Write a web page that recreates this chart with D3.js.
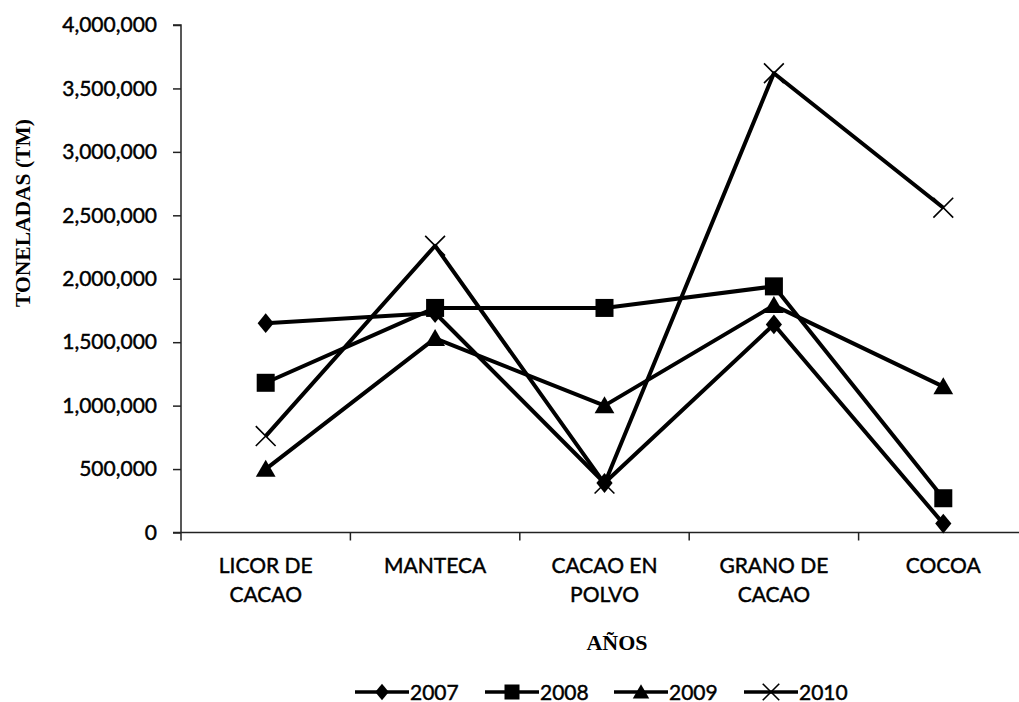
<!DOCTYPE html>
<html>
<head>
<meta charset="utf-8">
<script src="https://cdn.jsdelivr.net/npm/d3@7"></script>
<style>
  html, body { margin: 0; padding: 0; background: #fff; }
  svg { display: block; }
  .sans { font-family: Lato, "Open Sans", sans-serif; font-size: 21px; fill: #000; stroke: #000; stroke-width: 0.45px; }
</style>
</head>
<body>
<svg id="chart" width="1019" height="702"></svg>
<script>
// Cocoa product volumes by year (tonnes)
const categories = ["LICOR DE CACAO", "MANTECA", "CACAO EN POLVO", "GRANO DE CACAO", "COCOA"];
const years = ["2007", "2008", "2009", "2010"];
const values2007 = [1650000, 1730000, 390000, 1640000, 70000];
const values2008 = [1180000, 1770000, 1770000, 1940000, 270000];
const values2009 = [500000, 1530000, 1000000, 1790000, 1150000];
const values2010 = [760000, 2260000, 385000, 3620000, 2560000];
const yTicks = [0, 500000, 1000000, 1500000, 2000000, 2500000, 3000000, 3500000, 4000000];
const markerTypes = ["diamond", "square", "triangle", "cross"];

const seriesValues = [values2007, values2008, values2009, values2010];
const series = years.map((yr, i) => ({ year: yr, marker: markerTypes[i], values: seriesValues[i] }));

const svg = d3.select("#chart");
const plotLeft = 181, plotRight = 1028, plotTop = 25, plotBottom = 532.5;

const x = d3.scaleBand().domain(categories).range([plotLeft, plotRight]).paddingInner(0).paddingOuter(0);
const y = d3.scaleLinear().domain([0, 4000000]).range([plotBottom, plotTop]);
const cx = c => x(c) + x.bandwidth() / 2;

// Y axis
const yAxis = svg.append("g")
  .attr("transform", `translate(${plotLeft},0)`)
  .call(d3.axisLeft(y).tickValues(yTicks).tickFormat(d3.format(",")).tickSize(8).tickPadding(16));
yAxis.selectAll("path, line").attr("stroke", "#222").attr("stroke-width", 1.5);
yAxis.select(".domain").attr("d", `M-8,${y(4000000)}H0V${plotBottom}`);
yAxis.selectAll(".tick text").attr("class", "sans");

// X axis: ticks on category boundaries, labels centred in each band
const boundaries = categories.map(c => x(c)).concat([plotRight]);
const xAxisG = svg.append("g");
xAxisG.append("line")
  .attr("x1", plotLeft - 8).attr("x2", plotRight)
  .attr("y1", plotBottom).attr("y2", plotBottom)
  .attr("stroke", "#222").attr("stroke-width", 1.5);
xAxisG.selectAll("line.bt").data(boundaries).join("line")
  .attr("class", "bt")
  .attr("x1", d => d).attr("x2", d => d)
  .attr("y1", plotBottom).attr("y2", plotBottom + 8)
  .attr("stroke", "#222").attr("stroke-width", 1.5);

const labelG = xAxisG.selectAll("text.cat").data(categories).join("text")
  .attr("class", "cat sans")
  .attr("text-anchor", "middle")
  .attr("x", d => cx(d))
  .attr("y", plotBottom + 40.5);
labelG.each(function(d) {
  const words = d.split(" ");
  const lines = words.length > 1 ? [words.slice(0, 2).join(" "), words.slice(2).join(" ")].filter(s => s) : [d];
  const t = d3.select(this);
  lines.forEach((ln, i) => {
    t.append("tspan").attr("x", cx(d)).attr("dy", i === 0 ? 0 : 29).text(ln);
  });
});

// Axis titles
svg.append("text")
  .attr("transform", `translate(30,213) rotate(-90)`)
  .attr("text-anchor", "middle")
  .style("font-family", "'Liberation Serif', 'Times New Roman', serif")
  .style("font-weight", "bold")
  .style("font-size", "21.5px")
  .text("TONELADAS (TM)");

svg.append("text")
  .attr("x", 617).attr("y", 650)
  .attr("text-anchor", "middle")
  .style("font-family", "'Liberation Serif', 'Times New Roman', serif")
  .style("font-weight", "bold")
  .style("font-size", "22px")
  .text("AÑOS");

// Marker drawing
function drawMarker(g, type, s) {
  if (type === "diamond") {
    g.append("path").attr("d", `M0,${-s * 0.55}L${s * 0.45},0L0,${s * 0.55}L${-s * 0.45},0Z`).attr("fill", "#000");
  } else if (type === "square") {
    g.append("rect").attr("x", -s / 2).attr("y", -s / 2).attr("width", s).attr("height", s).attr("fill", "#000");
  } else if (type === "triangle") {
    const h = s * 0.95;
    g.append("path").attr("d", `M0,${-h * 0.55}L${s * 0.55},${h * 0.45}L${-s * 0.55},${h * 0.45}Z`).attr("fill", "#000");
  } else {
    const r = s * 0.55;
    g.append("path").attr("d", `M${-r},${-r}L${r},${r}M${-r},${r}L${r},${-r}`)
      .attr("stroke", "#000").attr("stroke-width", 1.6).attr("fill", "none");
  }
}

const line = d3.line().x((d, i) => cx(categories[i])).y(d => y(d));

const seriesG = svg.append("g");
series.forEach(s => {
  seriesG.append("path")
    .attr("d", line(s.values))
    .attr("fill", "none")
    .attr("stroke", "#000")
    .attr("stroke-width", 4)
    .attr("stroke-linejoin", "round");
});
series.forEach(s => {
  s.values.forEach((v, i) => {
    const g = seriesG.append("g").attr("transform", `translate(${cx(categories[i])},${y(v)})`);
    drawMarker(g, s.marker, 18);
  });
});

// Legend
const legendX = d3.scaleOrdinal().domain(years).range([355, 485, 614, 744]);
const legendY = 692;
series.forEach(s => {
  const lx = legendX(s.year);
  const g = svg.append("g").attr("transform", `translate(${lx},${legendY})`);
  g.append("line").attr("x1", 0).attr("x2", 54).attr("y1", 0).attr("y2", 0)
    .attr("stroke", "#000").attr("stroke-width", 3.5);
  const mg = g.append("g").attr("transform", "translate(27,0)");
  drawMarker(mg, s.marker, 15);
  g.append("text").attr("class", "sans").attr("x", 55).attr("y", 7.5)
    .text(s.year);
});
</script>
</body>
</html>
